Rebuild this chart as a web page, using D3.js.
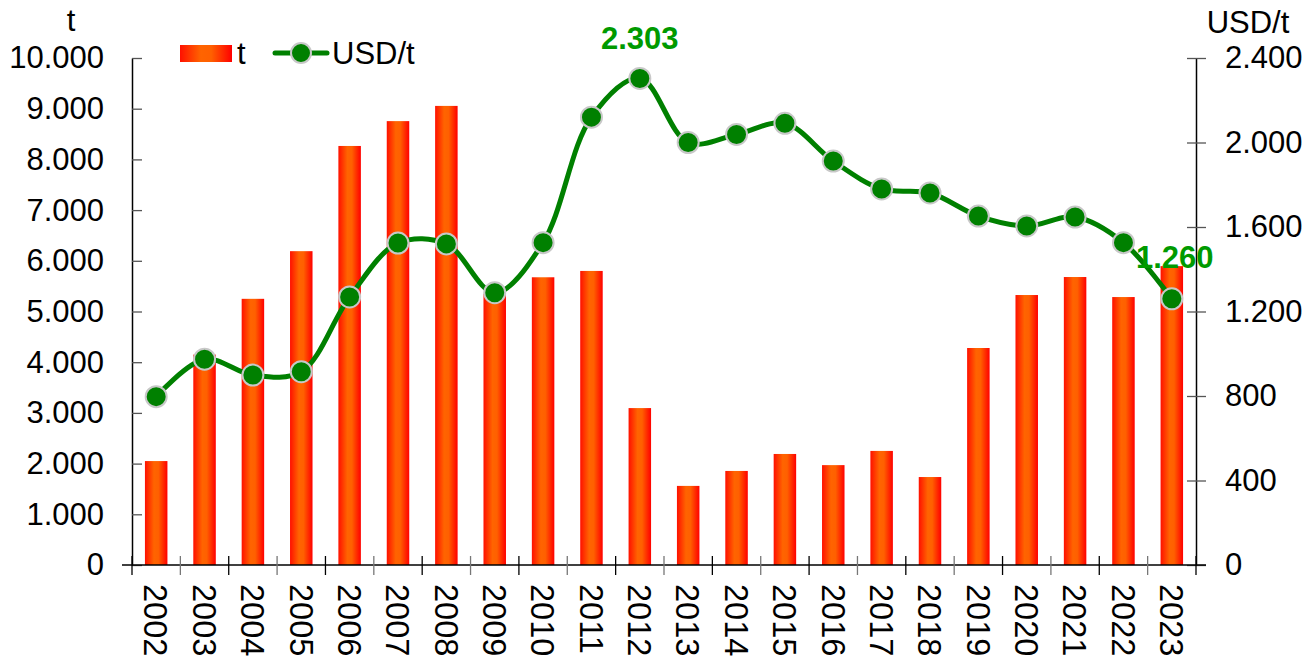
<!DOCTYPE html>
<html>
<head>
<meta charset="utf-8">
<script src="https://cdn.jsdelivr.net/npm/d3@7"></script>
<style>
  body { margin: 0; background: #fff; }
  text { font-family: "Liberation Sans", Arial, sans-serif; }
</style>
</head>
<body>
<svg id="chart"></svg>
<script>
// years, tonnes (bars, left axis) and price (line, right axis)
var years = ["2002","2003","2004","2005","2006","2007","2008","2009","2010","2011","2012",
             "2013","2014","2015","2016","2017","2018","2019","2020","2021","2022","2023"]
var tonnes = [2050, 4150, 5250, 6190, 8265, 8755, 9055, 5350, 5675, 5800, 3095,
              1560, 1855, 2190, 1970, 2250, 1735, 4280, 5325, 5680, 5285, 5895]
var usdPerT = [797, 974, 899, 915, 1269, 1524, 1520, 1289, 1526, 2120, 2303,
               2000, 2038, 2091, 1912, 1780, 1761, 1652, 1605, 1647, 1526, 1260]
var leftTicks = [0, 1000, 2000, 3000, 4000, 5000, 6000, 7000, 8000, 9000, 10000]
var rightTicks = [0, 400, 800, 1200, 1600, 2000, 2400]
var labelled = ["2012", "2023"]

const margin = { top: 58, right: 118, bottom: 92, left: 132 };
const W = 1314, H = 657;
const width = W - margin.left - margin.right;
const height = H - margin.top - margin.bottom;

const svg = d3.select("#chart").attr("width", W).attr("height", H);

// bar gradient: red edges, orange middle
const grad = svg.append("defs").append("linearGradient")
  .attr("id", "barGrad").attr("x1", "0%").attr("x2", "100%").attr("y1", "0%").attr("y2", "0%");
grad.append("stop").attr("offset", "0%").attr("stop-color", "#ff1000");
grad.append("stop").attr("offset", "40%").attr("stop-color", "#ff6400");
grad.append("stop").attr("offset", "60%").attr("stop-color", "#ff6000");
grad.append("stop").attr("offset", "100%").attr("stop-color", "#ff0000");

const g = svg.append("g").attr("transform", `translate(${margin.left}, ${margin.top})`);

const x = d3.scaleBand().domain(years).range([0, width]).paddingInner(0).paddingOuter(0);
const yL = d3.scaleLinear().domain([0, 10000]).range([height, 0]);
const yR = d3.scaleLinear().domain([0, 2400]).range([height, 0]);

const fmt = d3.formatLocale({ decimal: ",", thousands: ".", grouping: [3], currency: ["", ""] }).format(",d");

// bars
const barW = x.bandwidth() * 0.465;
g.selectAll("rect.bar")
  .data(years)
  .join("rect")
  .attr("class", "bar")
  .attr("x", (d) => x(d) + (x.bandwidth() - barW) / 2)
  .attr("y", (d, i) => yL(tonnes[i]))
  .attr("width", barW)
  .attr("height", (d, i) => height - yL(tonnes[i]))
  .attr("fill", "url(#barGrad)");

// left axis
const axL = g.append("g")
  .call(d3.axisLeft(yL).tickValues(leftTicks).tickFormat(fmt).tickSizeInner(9).tickSizeOuter(0).tickPadding(19));
axL.selectAll(".tick line").attr("x2", 10).attr("stroke", "#555").attr("stroke-width", 1.3);
axL.select(".domain").attr("stroke", "#000").attr("stroke-width", 1.5);
axL.selectAll("text").attr("font-size", 31).attr("fill", "#000");

// right axis
const axR = g.append("g").attr("transform", `translate(${width}, 0)`)
  .call(d3.axisRight(yR).tickValues(rightTicks).tickFormat(fmt).tickSizeInner(10).tickSizeOuter(0).tickPadding(19));
axR.selectAll(".tick line").attr("x2", 10).attr("x1", -9).attr("stroke", "#555").attr("stroke-width", 1.3);
axR.select(".domain").attr("stroke", "#000").attr("stroke-width", 1.5);
axR.selectAll("text").attr("font-size", 31).attr("fill", "#000");

// bottom axis with ticks between categories
const axB = g.append("g").attr("transform", `translate(0, ${height})`);
axB.append("line").attr("x1", -10).attr("x2", width + 10).attr("stroke", "#000").attr("stroke-width", 1.5);
const bounds = years.map((d) => x(d)).concat([width]);
axB.selectAll("line.tk")
  .data(bounds)
  .join("line")
  .attr("class", "tk")
  .attr("x1", (d) => d).attr("x2", (d) => d)
  .attr("y1", -9).attr("y2", 10)
  .attr("stroke", (d, i) => i % 2 ? "#777" : "#000")
  .attr("stroke-width", 1.3);
axB.selectAll("text.yr")
  .data(years)
  .join("text")
  .attr("class", "yr")
  .attr("transform", (d) => `translate(${x(d) + x.bandwidth() / 2}, 19) rotate(90)`)
  .attr("dy", "0.36em")
  .attr("font-size", 32.5)
  .attr("fill", "#000")
  .text((d) => d);

// price line
const line = d3.line()
  .x((d, i) => x(years[i]) + x.bandwidth() / 2)
  .y((d) => yR(d))
  .curve(d3.curveCatmullRom.alpha(0.5));
g.append("path")
  .datum(usdPerT)
  .attr("d", line)
  .attr("fill", "none")
  .attr("stroke", "#008000")
  .attr("stroke-width", 5)
  .attr("stroke-linejoin", "round");

g.selectAll("circle.pt")
  .data(usdPerT)
  .join("circle")
  .attr("class", "pt")
  .attr("cx", (d, i) => x(years[i]) + x.bandwidth() / 2)
  .attr("cy", (d) => yR(d))
  .attr("r", 10.5)
  .attr("fill", "#008000")
  .attr("stroke", "#c8c8c8")
  .attr("stroke-width", 2);

// value labels
g.selectAll("text.val")
  .data(labelled)
  .join("text")
  .attr("class", "val")
  .attr("x", (d) => x(d) + x.bandwidth() / 2 + (d === "2023" ? 3 : 0))
  .attr("y", (d) => yR(usdPerT[years.indexOf(d)]) - (d === "2023" ? 31 : 30))
  .attr("text-anchor", "middle")
  .attr("font-size", 31)
  .attr("font-weight", "bold")
  .attr("fill", "#009a00")
  .text((d) => fmt(usdPerT[years.indexOf(d)]));

// axis titles
svg.append("text").attr("x", 71).attr("y", 31).attr("text-anchor", "middle")
  .attr("font-size", 31).text("t");
svg.append("text").attr("x", 1248).attr("y", 33).attr("text-anchor", "middle")
  .attr("font-size", 31).text("USD/t");

// legend
const lg = svg.append("g");
lg.append("rect").attr("x", 180).attr("y", 45).attr("width", 52).attr("height", 17).attr("fill", "url(#barGrad)");
lg.append("text").attr("x", 237).attr("y", 64).attr("font-size", 31).text("t");
lg.append("line").attr("x1", 275).attr("x2", 327).attr("y1", 53).attr("y2", 53)
  .attr("stroke", "#008000").attr("stroke-width", 5).attr("stroke-linecap", "round");
lg.append("circle").attr("cx", 301).attr("cy", 53).attr("r", 10).attr("fill", "#008000")
  .attr("stroke", "#c8c8c8").attr("stroke-width", 2);
lg.append("text").attr("x", 332).attr("y", 64).attr("font-size", 31).text("USD/t");
</script>
</body>
</html>
